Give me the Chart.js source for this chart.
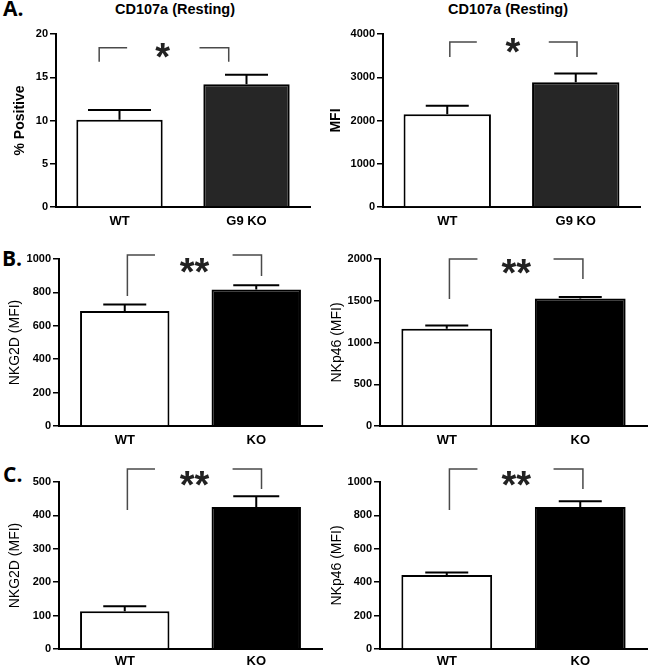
<!DOCTYPE html>
<html>
<head>
<meta charset="utf-8">
<script src="https://cdn.jsdelivr.net/npm/chart.js@4/dist/chart.umd.min.js"></script>
<style>
  body { margin: 0; background: #fff; }
  #wrap { position: relative; width: 650px; height: 667px; overflow: hidden; font-family: "Liberation Sans", Arial, sans-serif; }
  canvas { position: absolute; }
  .lbl { position: absolute; font-family: "Open Sans", sans-serif; font-weight: bold; font-size: 21px; line-height: 21px; color: #000; }
  .ttl { position: absolute; font-weight: bold; font-size: 14.5px; line-height: 16px; color: #000; text-align: center; width: 200px; }
</style>
</head>
<body>
<div id="wrap">
  <div class="lbl" style="left:3px;top:-2px">A.</div>
  <div class="lbl" style="left:2px;top:248px">B.</div>
  <div class="lbl" style="left:3px;top:464px">C.</div>
  <div class="ttl" style="left:75px;top:1px">CD107a (Resting)</div>
  <div class="ttl" style="left:408px;top:1px">CD107a (Resting)</div>
  <canvas id="a1" width="320" height="240" style="left:0px;top:0px"></canvas>
  <canvas id="a2" width="330" height="240" style="left:320px;top:0px"></canvas>
  <canvas id="b1" width="325" height="240" style="left:0px;top:225px"></canvas>
  <canvas id="b2" width="325" height="240" style="left:325px;top:225px"></canvas>
  <canvas id="c1" width="325" height="217" style="left:0px;top:450px"></canvas>
  <canvas id="c2" width="325" height="217" style="left:325px;top:450px"></canvas>
</div>
<script>
// groups
const groupsA = ['WT', 'G9 KO'];
const groupsBC = ['WT', 'KO'];

// A: CD107a resting
const cd107aPct = [10.1, 14.2];
const cd107aPctSem = [1.1, 1.1];
const cd107aMfi = [2145, 2885];
const cd107aMfiSem = [195, 200];

// B
const nkg2dB = [688, 818];
const nkg2dBSem = [40, 25];
const nkp46B = [1165, 1528];
const nkp46BSem = [40, 18];

// C
const nkg2dC = [113, 425];
const nkg2dCSem = [15, 32];
const nkp46C = [443, 850];
const nkp46CSem = [15, 35];

// y axis max / step
const yMax = [20, 4000, 1000, 2000, 500, 1000];
const yStep = [5, 1000, 200, 500, 100, 200];

// significance brackets: [top, left end, right end] in data units
const bracketLevels = [[18.4, 16.8, 16.8], [3815, 3468, 3468], [1024, 778, 898], [2000, 1521, 1760], [539, 416, 479], [1078, 832, 958]];
const starLevels = [18.4, 3790, 976, 1940, 518, 1036];
const starText = ['*', '*', '**', '**', '**', '**'];

// error bars + brackets + stars
const extras = {
  id: 'extras',
  afterDatasetsDraw(chart, args, o) {
    const ctx = chart.ctx;
    const x = chart.scales.x, y = chart.scales.y;
    const meta = chart.getDatasetMeta(0);
    ctx.save();
    ctx.strokeStyle = '#000';
    ctx.lineWidth = 2;
    meta.data.forEach((bar, i) => {
      const top = y.getPixelForValue(o.values[i] + o.sem[i]);
      const cw = o.capW[i] / 2;
      ctx.beginPath();
      ctx.moveTo(bar.x, bar.y);
      ctx.lineTo(bar.x, top);
      ctx.moveTo(bar.x - cw, top);
      ctx.lineTo(bar.x + cw, top);
      ctx.stroke();
    });
    // bracket
    const [lv, l1, l2] = o.levels;
    const bx = o.bx;
    const yt = y.getPixelForValue(lv);
    ctx.strokeStyle = '#4a4a4a';
    ctx.lineWidth = 1.5;
    ctx.beginPath();
    ctx.moveTo(x.getPixelForValue(bx[0]), y.getPixelForValue(l1));
    ctx.lineTo(x.getPixelForValue(bx[0]), yt);
    ctx.lineTo(x.getPixelForValue(bx[1]), yt);
    ctx.moveTo(x.getPixelForValue(bx[2]), yt);
    ctx.lineTo(x.getPixelForValue(bx[3]), yt);
    ctx.lineTo(x.getPixelForValue(bx[3]), y.getPixelForValue(l2));
    ctx.stroke();
    // stars
    ctx.fillStyle = '#222';
    ctx.font = 'bold 38px "Liberation Sans", Arial, sans-serif';
    ctx.textAlign = 'center';
    ctx.textBaseline = 'alphabetic';
    ctx.fillText(o.star, x.getPixelForValue(o.starX), y.getPixelForValue(o.starLevel) + 0.575 * 38);
    ctx.restore();
  }
};

function makePanel(id, p) {
  new Chart(document.getElementById(id), {
    type: 'bar',
    data: {
      labels: p.labels,
      datasets: [{
        data: p.values,
        backgroundColor: ['#ffffff', p.fill],
        borderColor: '#000',
        borderWidth: 2,
        barPercentage: 0.68,
        categoryPercentage: 1
      }]
    },
    options: {
      responsive: false,
      animation: false,
      devicePixelRatio: 1,
      layout: { padding: { top: p.padTop, right: p.padRight, left: 0, bottom: 0 } },
      plugins: {
        legend: { display: false },
        tooltip: { enabled: false },
        extras: {
          values: p.values, sem: p.sem, capW: p.capW,
          levels: p.levels, bx: p.bx, star: p.star, starX: p.starX, starLevel: p.starLevel
        }
      },
      scales: {
        x: {
          grid: { display: false },
          border: { display: true, color: '#000', width: 2 },
          ticks: { color: '#000', padding: p.xPad, font: { family: '"Liberation Sans", Arial', size: 13, weight: 'bold' } },
          afterFit: s => { s.height = p.xH; }
        },
        y: {
          min: 0,
          max: p.max,
          ticks: { stepSize: p.step, color: '#000', padding: 2, callback: v => String(v),
            font: { family: '"Liberation Sans", Arial', size: 11, weight: 'bold' } },
          grid: { drawOnChartArea: false, drawTicks: true, tickLength: 6, color: '#000', lineWidth: 1.5 },
          border: { display: true, color: '#000', width: 2 },
          title: {
            display: true, text: p.yTitle, color: '#000',
            padding: { top: p.yTitlePad, bottom: 0 },
            font: { family: '"Liberation Sans", Arial', size: 14, weight: p.yTitleWeight }
          },
          afterFit: s => { s.width = p.yW; }
        }
      }
    },
    plugins: [extras]
  });
}

makePanel('a1', { labels: groupsA, values: cd107aPct, sem: cd107aPctSem, fill: '#262626', capW: [63, 43],
  max: yMax[0], step: yStep[0], yTitle: '% Positive', yTitleWeight: 'bold', yTitlePad: 11.6,
  yW: 56, padTop: 34, xH: 33, padRight: 10, xPad: -1,
  levels: bracketLevels[0], bx: [-0.16, 0.06, 0.63, 0.86], star: starText[0], starX: 0.34, starLevel: starLevels[0] });

makePanel('a2', { labels: groupsA, values: cd107aMfi, sem: cd107aMfiSem, fill: '#262626', capW: [43, 43],
  max: yMax[1], step: yStep[1], yTitle: 'MFI', yTitleWeight: 'bold', yTitlePad: 7.6,
  yW: 63, padTop: 34, xH: 33, padRight: 10, xPad: -1,
  levels: bracketLevels[1], bx: [0.02, 0.23, 0.79, 1.01], star: starText[1], starX: 0.51, starLevel: starLevels[1] });

makePanel('b1', { labels: groupsBC, values: nkg2dB, sem: nkg2dBSem, fill: '#000000', capW: [43, 46],
  max: yMax[2], step: yStep[2], yTitle: 'NKG2D (MFI)', yTitleWeight: 'normal', yTitlePad: 6.6,
  yW: 59, padTop: 34, xH: 39, padRight: 3, xPad: -1,
  levels: bracketLevels[2], bx: [0.02, 0.23, 0.82, 1.04], star: starText[2], starX: 0.53, starLevel: starLevels[2] });

makePanel('b2', { labels: groupsBC, values: nkp46B, sem: nkp46BSem, fill: '#000000', capW: [43, 43],
  max: yMax[3], step: yStep[3], yTitle: 'NKp46 (MFI)', yTitleWeight: 'normal', yTitlePad: 3.6,
  yW: 55, padTop: 34, xH: 39, padRight: 3, xPad: -1,
  levels: bracketLevels[3], bx: [0.02, 0.23, 0.80, 1.02], star: starText[3], starX: 0.52, starLevel: starLevels[3] });

makePanel('c1', { labels: groupsBC, values: nkg2dC, sem: nkg2dCSem, fill: '#000000', capW: [43, 46],
  max: yMax[4], step: yStep[4], yTitle: 'NKG2D (MFI)', yTitleWeight: 'normal', yTitlePad: 6.6,
  yW: 59, padTop: 32, xH: 18, padRight: 3, xPad: -3,
  levels: bracketLevels[4], bx: [0.02, 0.23, 0.82, 1.04], star: starText[4], starX: 0.53, starLevel: starLevels[4] });

makePanel('c2', { labels: groupsBC, values: nkp46C, sem: nkp46CSem, fill: '#000000', capW: [43, 43],
  max: yMax[5], step: yStep[5], yTitle: 'NKp46 (MFI)', yTitleWeight: 'normal', yTitlePad: 3.6,
  yW: 55, padTop: 32, xH: 18, padRight: 3, xPad: -3,
  levels: bracketLevels[5], bx: [0.02, 0.23, 0.80, 1.02], star: starText[5], starX: 0.52, starLevel: starLevels[5] });
</script>
</body>
</html>
